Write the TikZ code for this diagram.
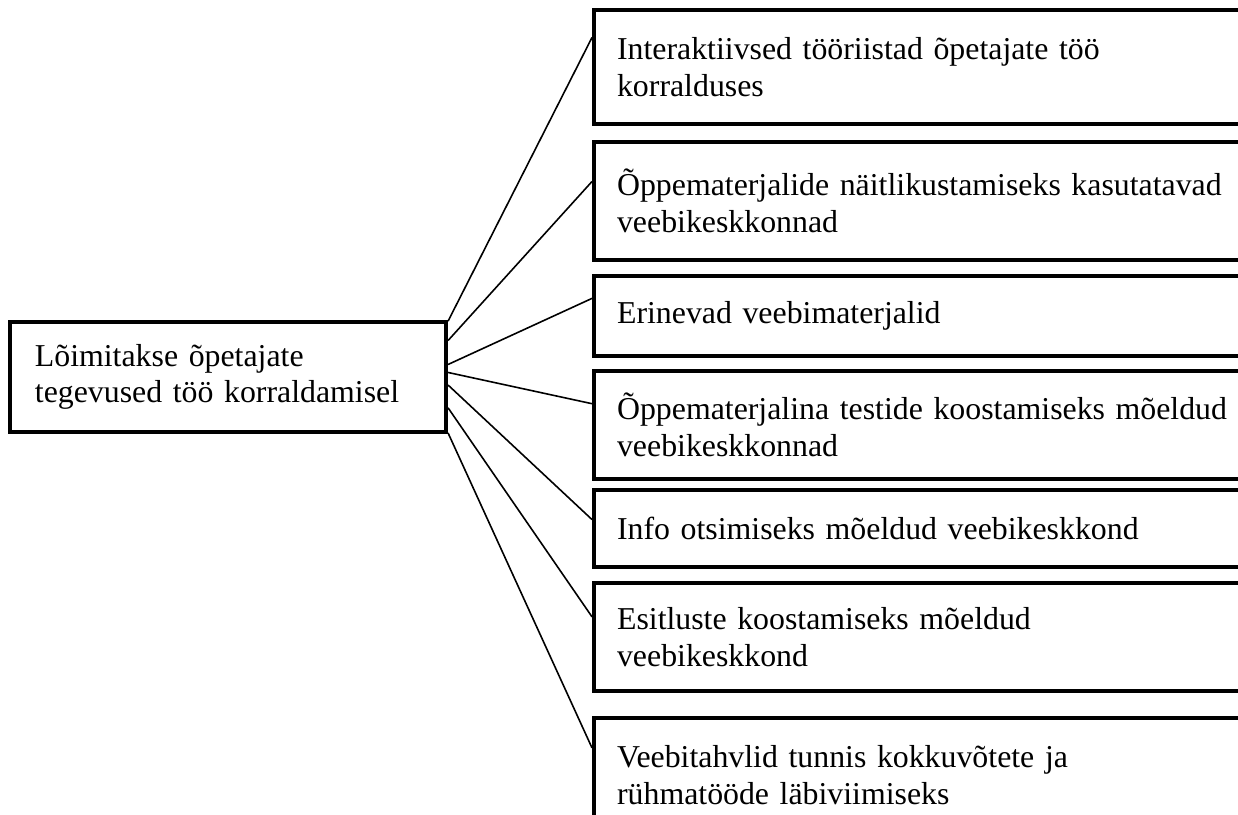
\documentclass[tikz,border=0pt]{standalone}
\usepackage{fontspec}
\setmainfont{Liberation Serif}
\usetikzlibrary{calc}

\tikzset{
	box/.style = {draw, line width=1.5pt, anchor=north west, align=left,
		font=\fontsize{12}{13.8}\selectfont},
	lead/.style = {box, inner xsep=9.4pt, text width=145.6pt, minimum height=41.5pt},
	item/.style = {box, inner xsep=8.7pt, text width=239pt},
	link/.style = {line width=0.6pt},
}

\begin{document}
\begin{tikzpicture}[x=0.377pt, y=-0.377pt]
		\useasboundingbox (0,0) rectangle (1238,814);
		\clip (0,0) rectangle (1238,814);
	
		\node [lead] (lead) at (8,320) {L\~oimitakse \~opetajate\\tegevused t\"o\"o korraldamisel};
	
		\node [item, minimum height=43pt] (tools) at (592,8) {Interaktiivsed t\"o\"oriistad \~opetajate t\"o\"o\\korralduses};
		\node [item, minimum height=44.5pt] (visual) at (592,140) {\~Oppematerjalide n\"aitlikustamiseks kasutatavad\\veebikeskkonnad};
		\node [item, minimum height=30.2pt] (web) at (592,274) {Erinevad veebimaterjalid};
		\node [item, minimum height=40.7pt] (tests) at (592,369) {\~Oppematerjalina testide koostamiseks m\~oeldud\\veebikeskkonnad};
		\node [item, minimum height=29pt] (search) at (592,488) {Info otsimiseks m\~oeldud veebikeskkond};
		\node [item, minimum height=40.7pt] (slides) at (592,581) {Esitluste koostamiseks m\~oeldud\\veebikeskkond};
		\node [item, minimum height=43pt] (boards) at (592,716) {Veebitahvlid tunnis kokkuv\~otete ja\\r\"uhmat\"o\"ode l\"abiviimiseks};
	
		\begin{scope}[link]
			\draw ($(lead.north east)!0.01!(lead.south east)$) -- ($(tools.north west)!0.25!(tools.south west)$);
			\draw ($(lead.north east)!0.18!(lead.south east)$) -- ($(visual.north west)!0.34!(visual.south west)$);
			\draw ($(lead.north east)!0.39!(lead.south east)$) -- ($(web.north west)!0.29!(web.south west)$);
			\draw ($(lead.north east)!0.46!(lead.south east)$) -- ($(tests.north west)!0.31!(tests.south west)$);
			\draw ($(lead.north east)!0.57!(lead.south east)$) -- ($(search.north west)!0.39!(search.south west)$);
			\draw ($(lead.north east)!0.77!(lead.south east)$) -- ($(slides.north west)!0.32!(slides.south west)$);
			\draw ($(lead.north east)!0.99!(lead.south east)$) -- ($(boards.north west)!0.27!(boards.south west)$);
		\end{scope}
	\end{tikzpicture}
\end{document}
